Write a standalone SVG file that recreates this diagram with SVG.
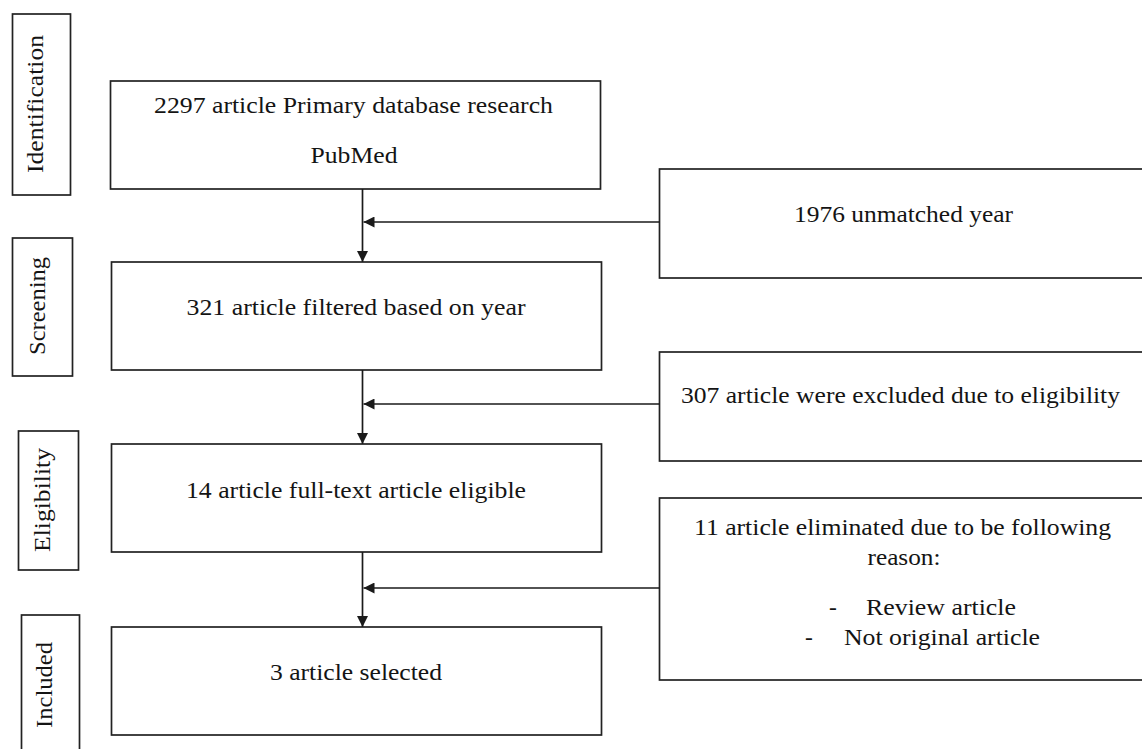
<svg xmlns="http://www.w3.org/2000/svg" width="1142" height="749" viewBox="0 0 1142 749">
<defs>
<style>
.box{fill:#fff;stroke:#222;stroke-width:1.7}
.t{font-family:"Liberation Serif","Times New Roman",serif;font-size:23.5px;fill:#141414;text-anchor:middle}
.tl{font-family:"Liberation Serif","Times New Roman",serif;font-size:23.5px;fill:#141414}
.c{stroke:#1a1a1a;stroke-width:1.7;fill:none}
</style>
<marker id="arr" markerUnits="userSpaceOnUse" markerWidth="11" markerHeight="11" refX="10" refY="5" orient="auto" viewBox="0 0 10 10">
<path d="M0,0 L10,5 L0,10 z" fill="#1a1a1a"/>
</marker>
</defs>
<rect width="1142" height="749" fill="#fff"/>

<g id="label-identification">
<rect class="box" x="12.5" y="14" width="58" height="181"/>
<text class="t" transform="translate(43,104) rotate(-90)" textLength="138" lengthAdjust="spacingAndGlyphs">Identification</text>
</g>
<g id="label-screening">
<rect class="box" x="12.5" y="238" width="60" height="138"/>
<text class="t" transform="translate(45,306) rotate(-90)" textLength="98" lengthAdjust="spacingAndGlyphs">Screening</text>
</g>
<g id="label-eligibility">
<rect class="box" x="18.5" y="431" width="60" height="139"/>
<text class="t" transform="translate(50,500) rotate(-90)" textLength="104" lengthAdjust="spacingAndGlyphs">Eligibility</text>
</g>
<g id="label-included">
<rect class="box" x="21.5" y="615" width="58" height="150"/>
<text class="t" transform="translate(51.5,685) rotate(-90)" textLength="86" lengthAdjust="spacingAndGlyphs">Included</text>
</g>

<g id="node-primary">
<rect class="box" x="110.5" y="81" width="490" height="108"/>
<text class="t" x="353.5" y="113" textLength="399" lengthAdjust="spacingAndGlyphs">2297 article Primary database research</text>
<text class="t" x="354" y="163" textLength="87" lengthAdjust="spacingAndGlyphs">PubMed</text>
</g>
<g id="node-filtered">
<rect class="box" x="111.5" y="262" width="490" height="108"/>
<text class="t" x="356" y="315" textLength="339" lengthAdjust="spacingAndGlyphs">321 article filtered based on year</text>
</g>
<g id="node-eligible">
<rect class="box" x="111.5" y="444" width="490" height="108"/>
<text class="t" x="356" y="498" textLength="340" lengthAdjust="spacingAndGlyphs">14 article full-text article eligible</text>
</g>
<g id="node-selected">
<rect class="box" x="111.5" y="627" width="490" height="108"/>
<text class="t" x="356" y="680" textLength="172" lengthAdjust="spacingAndGlyphs">3 article selected</text>
</g>

<g id="node-unmatched">
<rect class="box" x="659.5" y="169" width="500" height="109"/>
<text class="t" x="903.5" y="222" textLength="219" lengthAdjust="spacingAndGlyphs">1976 unmatched year</text>
</g>
<g id="node-excluded">
<rect class="box" x="659.5" y="352" width="500" height="109"/>
<text class="t" x="900.5" y="403" textLength="439" lengthAdjust="spacingAndGlyphs">307 article were excluded due to eligibility</text>
</g>
<g id="node-eliminated">
<rect class="box" x="659.5" y="498" width="500" height="182"/>
<text class="t" x="902.5" y="535" textLength="417" lengthAdjust="spacingAndGlyphs">11 article eliminated due to be following</text>
<text class="t" x="904" y="564.5" textLength="73" lengthAdjust="spacingAndGlyphs">reason:</text>
<text class="tl" x="829" y="615">-</text>
<text class="tl" x="866" y="615" textLength="150" lengthAdjust="spacingAndGlyphs">Review article</text>
<text class="tl" x="805" y="645">-</text>
<text class="tl" x="844" y="645" textLength="196" lengthAdjust="spacingAndGlyphs">Not original article</text>
</g>

<g id="connectors">
<line class="c" x1="362.5" y1="189" x2="362.5" y2="262" marker-end="url(#arr)"/>
<line class="c" x1="362.5" y1="370" x2="362.5" y2="444" marker-end="url(#arr)"/>
<line class="c" x1="362.5" y1="552" x2="362.5" y2="627" marker-end="url(#arr)"/>
<line class="c" x1="659.5" y1="222" x2="363.5" y2="222" marker-end="url(#arr)"/>
<line class="c" x1="659.5" y1="404" x2="363.5" y2="404" marker-end="url(#arr)"/>
<line class="c" x1="659.5" y1="588" x2="363.5" y2="588" marker-end="url(#arr)"/>
</g>
</svg>
